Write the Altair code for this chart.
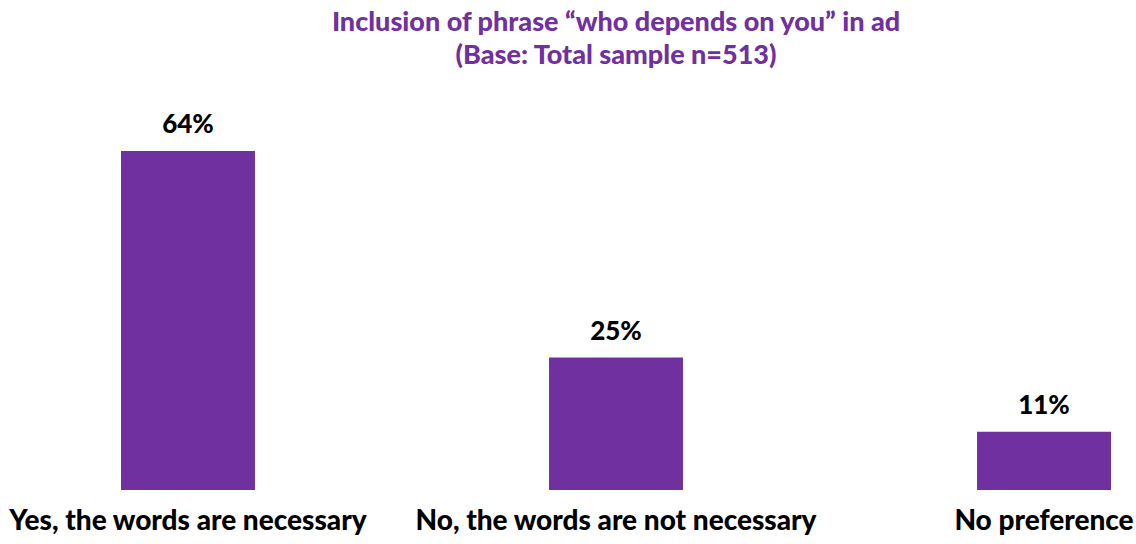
import altair as alt
import pandas as pd

categories = ["Yes, the words are necessary", "No, the words are not necessary", "No preference"]
values = [64, 25, 11]

title_lines = ["Inclusion of phrase \u201cwho depends on you\u201d in ad", "(Base:  Total sample n=513)"]

PURPLE = "#7030A0"
FONT = "Lato"

df = pd.DataFrame({"category": categories, "value": values})

H = 390
ymax = H / (339 / 64)

base = alt.Chart(df).encode(
    x=alt.X(
        "category:N",
        sort=categories,
        scale=alt.Scale(paddingInner=0.687, paddingOuter=0),
        axis=alt.Axis(
            title=None,
            labelAngle=0,
            labelFont=FONT,
            labelFontSize=28,
            labelFontWeight=900,
            labelColor="black",
            labelPadding=17,
            ticks=False,
            domain=False,
            labelOverlap=False,
            labelLimit=0,
        ),
    ),
    y=alt.Y("value:Q", scale=alt.Scale(domain=[0, ymax]), axis=None),
)

bars = base.mark_bar(color=PURPLE)
labels = base.transform_calculate(lbl="datum.value + '%'").mark_text(
    baseline="bottom", dy=-13, font=FONT, fontSize=26, fontWeight=900, color="black"
).encode(text="lbl:N")

chart = (bars + labels).properties(
    width=990,
    height=H,
    autosize=alt.AutoSizeParams(type="none"),
    padding={"left": 121, "top": 100, "right": 25, "bottom": 54},
    title=alt.TitleParams(
        text=title_lines,
        font=FONT,
        fontSize=27,
        fontWeight=900,
        color=PURPLE,
        anchor="middle",
        lineHeight=33,
        offset=30,
    ),
).configure(background="white").configure_view(strokeWidth=0, stroke=None)

chart.save("out.html", embed_options={"renderer": "svg", "actions": False})
